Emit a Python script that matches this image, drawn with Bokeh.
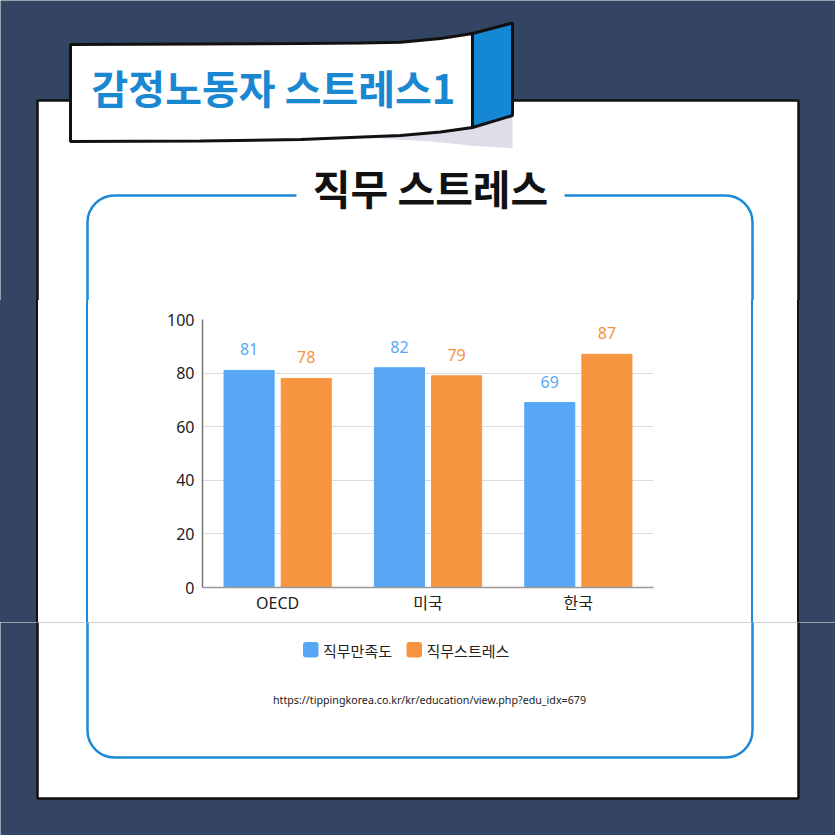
from bokeh.plotting import figure
from bokeh.models import Range1d, BoxAnnotation, Label, FixedTicker, ColumnDataSource
from bokeh.layouts import column, row
from bokeh.transform import dodge
from bokeh.core.properties import value
from bokeh.embed import file_html
from bokeh.resources import INLINE

# ---- data ----
categories = ["OECD", "미국", "한국"]
satisfaction = [81, 82, 69]      # 직무만족도
stress = [78, 79, 87]            # 직무스트레스
series_names = ["직무만족도", "직무스트레스"]
y_ticks = [0, 20, 40, 60, 80, 100]
banner_title = "감정노동자 스트레스1"
section_title = "직무 스트레스"
source_url = "https://tippingkorea.co.kr/kr/education/view.php?edu_idx=679"

NAVY = "#334563"
BLUE_BAR = "#58a6f6"
ORANGE_BAR = "#f89540"
SERIES_COLORS = [BLUE_BAR, ORANGE_BAR]
RIBBON_BLUE = "#1488d2"
FRAME_BLUE = "#1a8ad8"
KR = "Noto Sans CJK KR"
MIX = "'Noto Sans', 'Noto Sans CJK KR'"

# page split (pixels of the 835x835 page)
X_SPLIT = (0, 150, 665, 835)
Y_SPLIT = (0, 300, 622, 835)

# ---------------- chart figure ----------------
xpos = [i + 0.5 for i in range(len(categories))]
src = ColumnDataSource(dict(
    x=xpos, s1=satisfaction, s2=stress,
    t1=[str(v) for v in satisfaction], t2=[str(v) for v in stress],
))

cw = X_SPLIT[2] - X_SPLIT[1]
ch = Y_SPLIT[2] - Y_SPLIT[1]
p = figure(width=cw, height=ch, x_range=Range1d(0, len(categories)),
           y_range=Range1d(0, 100), output_backend="svg", toolbar_location=None,
           title=None, min_border_left=52, min_border_right=12, min_border_top=19,
           min_border_bottom=ch - 19 - 268, background_fill_color="white",
           border_fill_color="white", outline_line_color=None)

p.vbar(x=dodge("x", -0.19), top="s1", width=0.333, source=src,
       fill_color=BLUE_BAR, line_color=BLUE_BAR)
p.vbar(x=dodge("x", 0.19), top="s2", width=0.333, source=src,
       fill_color=ORANGE_BAR, line_color=ORANGE_BAR)

p.text(x=dodge("x", -0.19), y="s1", text="t1", source=src,
       text_align="center", text_baseline="alphabetic", y_offset=-21,
       text_font=value("Noto Sans"), text_font_size="16px", text_color="#5aa8f5")
p.text(x=dodge("x", 0.19), y="s2", text="t2", source=src,
       text_align="center", text_baseline="alphabetic", y_offset=-21,
       text_font=value("Noto Sans"), text_font_size="16px", text_color="#f5913c")

p.yaxis.ticker = FixedTicker(ticks=y_ticks)
p.yaxis.major_tick_in = 0
p.yaxis.major_tick_out = 0
p.yaxis.minor_tick_line_color = None
p.yaxis.axis_line_color = "#777777"
p.yaxis.axis_line_width = 1.5
p.yaxis.major_label_standoff = 8
p.yaxis.major_label_text_font = "Noto Sans"
p.yaxis.major_label_text_font_size = "16px"
p.yaxis.major_label_text_color = "#222222"

p.xaxis.ticker = FixedTicker(ticks=xpos)
p.xaxis.major_label_overrides = {x: c for x, c in zip(xpos, categories)}
p.xaxis.major_tick_in = 0
p.xaxis.major_tick_out = 0
p.xaxis.minor_tick_line_color = None
p.xaxis.axis_line_color = "#999999"
p.xaxis.axis_line_width = 1.5
p.xaxis.major_label_standoff = 4
p.xaxis.major_label_text_font = MIX
p.xaxis.major_label_text_font_size = "16px"
p.xaxis.major_label_text_color = "#222222"

p.xgrid.grid_line_color = None
p.ygrid.grid_line_color = "#dcdcdc"
p.ygrid.grid_line_width = 1

# ---------------- decoration figures ----------------
shadow = [(380, 136.5), (400, 135), (440, 131.5), (472, 127), (512, 115), (512, 148),
          (470, 145), (430, 141), (380, 138)]
white_rib = [(70, 44), (200, 43.5), (300, 43), (360, 42.5), (400, 41.7), (440, 38),
             (472, 33), (472, 127), (440, 131.5), (400, 135), (300, 139), (200, 140.5),
             (70, 141)]
blue_rib = [(472, 33), (512, 22.5), (512, 115), (472, 127)]
legend_x = [302.5, 406]          # swatch left edges (page pixels)


def decor(x0, x1, y0, y1, top=False, bottom=False):
    f = figure(width=x1 - x0, height=y1 - y0, x_range=Range1d(x0, x1),
               y_range=Range1d(y1, y0), output_backend="svg", toolbar_location=None,
               title=None, x_axis_location=None, y_axis_location=None, min_border=0,
               background_fill_color=NAVY, border_fill_color=NAVY,
               outline_line_color=None)
    f.grid.visible = False
    f.add_layout(BoxAnnotation(left=37, right=798, top=100, bottom=798, fill_color="white",
                               fill_alpha=1, line_color="#111111", line_alpha=1,
                               line_width=2.5, level="underlay"))
    f.add_layout(BoxAnnotation(left=87, right=752, top=195, bottom=757, fill_alpha=0,
                               line_color=FRAME_BLUE, line_alpha=1, line_width=2.5,
                               border_radius=27))
    if top:
        f.add_layout(BoxAnnotation(left=296, right=564, top=188, bottom=202,
                                   fill_color="white", fill_alpha=1, line_color=None))
        f.patch([q[0] for q in shadow], [q[1] for q in shadow], fill_color="#dedeea",
                line_color=None)
        f.patch([q[0] for q in white_rib], [q[1] for q in white_rib], fill_color="white",
                line_color="#111111", line_width=3)
        f.patch([q[0] for q in blue_rib], [q[1] for q in blue_rib], fill_color=RIBBON_BLUE,
                line_color="#111111", line_width=3)
        f.add_layout(Label(x=430, y=186, text=section_title, text_align="center",
                           text_baseline="middle", text_font=KR, text_font_style="bold",
                           text_font_size="41px", text_color="#111111"))
        f.add_layout(Label(x=273, y=86, text=banner_title, text_align="center",
                           text_baseline="middle", text_font=KR, text_font_style="bold",
                           text_font_size="40px", text_color="#1a87d1"))
    if bottom:
        for lx, name, col in zip(legend_x, series_names, SERIES_COLORS):
            f.add_layout(BoxAnnotation(left=lx, right=lx + 15.5, top=641.5, bottom=657,
                                       fill_color=col, fill_alpha=1, line_color=None,
                                       border_radius=3))
            f.add_layout(Label(x=lx + 20, y=649.5, text=name, text_align="left",
                               text_baseline="middle", text_font=KR,
                               text_font_size="15px", text_color="#222222"))
        f.add_layout(Label(x=429, y=699, text=source_url, text_align="center",
                           text_baseline="middle", text_font="Noto Sans",
                           text_font_size="10.7px", text_color="#222222"))
    return f


def stripes(x0, x1, bands):
    # vertical bands (page pixels) painted as the figure's css background
    stops = []
    for a, b, c in bands:
        stops.append("%s %.2fpx" % (c, a - x0))
        stops.append("%s %.2fpx" % (c, b - x0))
    return "linear-gradient(to right, %s)" % ", ".join(stops)


def side(x0, x1, bands):
    f = figure(width=x1 - x0, height=Y_SPLIT[2] - Y_SPLIT[1], x_range=Range1d(x0, x1),
               y_range=Range1d(0, 1), output_backend="svg", toolbar_location=None,
               title=None, x_axis_location=None, y_axis_location=None, min_border=0,
               background_fill_alpha=0, border_fill_alpha=0, outline_line_color=None)
    f.grid.visible = False
    f.styles = {"background": stripes(x0, x1, bands)}
    return f


left_fig = side(X_SPLIT[0], X_SPLIT[1],
                [(0, 35.75, NAVY), (35.75, 38.25, "#111111"), (38.25, 85.75, "#ffffff"),
                 (85.75, 88.25, FRAME_BLUE), (88.25, 150, "#ffffff")])
right_fig = side(X_SPLIT[2], X_SPLIT[3],
                 [(665, 750.75, "#ffffff"), (750.75, 753.25, FRAME_BLUE),
                  (753.25, 796.75, "#ffffff"), (796.75, 799.25, "#111111"),
                  (799.25, 835, NAVY)])

top_fig = decor(X_SPLIT[0], X_SPLIT[3], Y_SPLIT[0], Y_SPLIT[1], top=True)
bottom_fig = decor(X_SPLIT[0], X_SPLIT[3], Y_SPLIT[2], Y_SPLIT[3], bottom=True)

page = column(top_fig, row(left_fig, p, right_fig, spacing=0), bottom_fig, spacing=0)

open("out.html", "w").write(file_html(page, INLINE))
